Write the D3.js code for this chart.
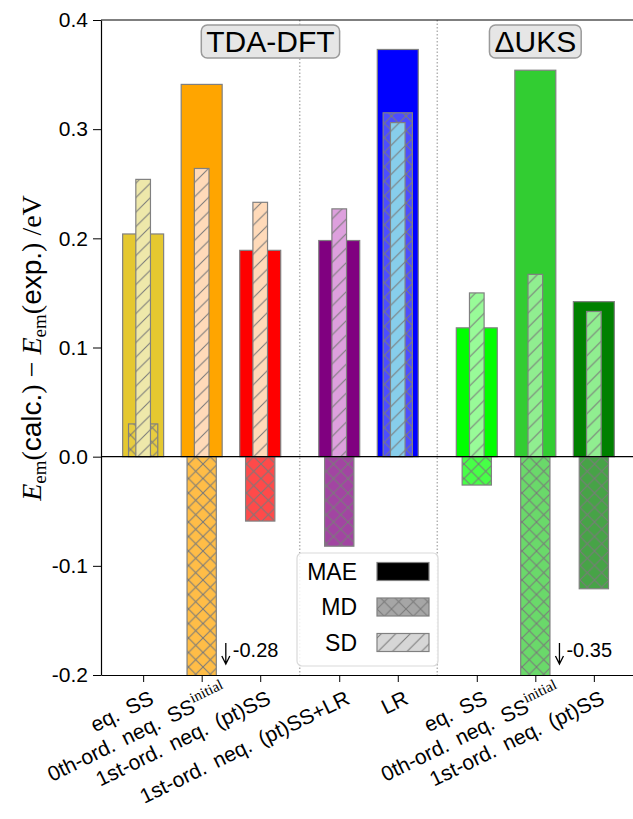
<!DOCTYPE html>
<html><head><meta charset="utf-8">
<script src="https://cdn.jsdelivr.net/npm/d3@7"></script>
<style>body{margin:0;background:#fff;overflow:hidden} svg{display:block}</style>
</head><body>
<svg id="c" width="633" height="819"></svg>
<script>
// ---------- data ----------
const categories = ["eq. SS","0th-ord. neq. SS","1st-ord. neq. (pt)SS","1st-ord. neq. (pt)SS+LR","LR","eq. SS","0th-ord. neq. SS","1st-ord. neq. (pt)SS"];
const superscripts = ["","initial","","","","","initial",""];
const blockIndex = [0,0,0,1,1,2,2,2];
const methods = ["TDA-DFT","\u0394UKS"];
const methodIndex = [0,0,0,0,0,1,1,1];
const maeValues = [0.204,0.341,0.189,0.198,0.373,0.118,0.354,0.142];
const mdValues  = [0.030,-0.28,-0.059,-0.082,0.315,-0.026,-0.35,-0.121];
const sdValues  = [0.254,0.264,0.233,0.227,0.306,0.150,0.167,0.133];
const maeColors = ["#e5c830","#ffa500","#ff0000","#800080","#0000ff","#00ff00","#32cd32","#008000"];
const mdColors  = ["#e8cd40","#ffbd47","#ff4a4a","#a245a2","#4d4dff","#47ff47","#6ad96a","#47a347"];
const sdColors  = ["#eee8aa","#ffdab9","#ffdab9","#dda0dd","#87ceeb","#98fb98","#90ee90","#90ee90"];
const yTicks = [-0.2,-0.1,0.0,0.1,0.2,0.3,0.4];
const legendLabels = ["MAE","MD","SD"];

// ---------- layout ----------
const sans = "'Liberation Sans', Arial, sans-serif";
const serif = "'Liberation Serif', 'DejaVu Serif', serif";
const svg = d3.select("#c");
const L = 101, T = 20, B = 675, R = 636;
const pos = categories.map((c,i)=> i + 0.35*blockIndex[i]);
const x = d3.scaleLinear().domain([-0.72, 8.42]).range([L, R]);
const y = d3.scaleLinear().domain([-0.2, 0.4]).range([B, T]);
const unit = x(1) - x(0);

// patterns
const defs = svg.append("defs");
const hatchStroke = "#7a7a7a";
function makePattern(id, color, kind){
  const s = 14.5;
  const p = defs.append("pattern").attr("id", id).attr("patternUnits","userSpaceOnUse")
    .attr("width", s).attr("height", s);
  p.append("rect").attr("width", s).attr("height", s).attr("fill", color);
  const segs = kind === "x"
    ? [[0,0,s,s],[0,s,s,0],[-1,1,1,-1],[s-1,s+1,s+1,s-1],[-1,s-1,1,s+1],[s-1,-1,s+1,1]]
    : [[0,s,s,0],[-1,1,1,-1],[s-1,s+1,s+1,s-1]];
  segs.forEach(q => p.append("line").attr("x1",q[0]).attr("y1",q[1]).attr("x2",q[2]).attr("y2",q[3])
    .attr("stroke", hatchStroke).attr("stroke-width", 1));
}
mdColors.forEach((c,i)=> makePattern("md"+i, c, "x"));
sdColors.forEach((c,i)=> makePattern("sd"+i, c, "/"));
makePattern("legMD", "#a6a6a6", "x");
makePattern("legSD", "#d6d6d6", "/");

defs.append("clipPath").attr("id","clip").append("rect")
  .attr("x", L).attr("y", T).attr("width", R-L).attr("height", B-T);

// separators (dotted)
const seps = [];
for (let i=1;i<pos.length;i++) if (blockIndex[i]!==blockIndex[i-1]) seps.push((pos[i]+pos[i-1])/2);
svg.append("g").selectAll("line").data(seps).join("line")
  .attr("x1", d=>x(d)).attr("x2", d=>x(d)).attr("y1", T).attr("y2", B)
  .attr("stroke","#b3b3b3").attr("stroke-width",1.5).attr("stroke-dasharray","1.5,2");

const plot = svg.append("g").attr("clip-path","url(#clip)");
function bars(values, widthU, fillFn){
  plot.append("g").selectAll("rect").data(values).join("rect")
    .attr("x", (d,i)=> x(pos[i]) - widthU*unit/2)
    .attr("width", widthU*unit)
    .attr("y", d => y(Math.max(0,d)))
    .attr("height", d => Math.abs(y(d)-y(0)))
    .attr("fill", fillFn)
    .attr("stroke", "#808080").attr("stroke-width", 1.2);
}
bars(maeValues, 0.7, (d,i)=> maeColors[i]);
bars(mdValues, 0.5, (d,i)=> `url(#md${i})`);
bars(sdValues, 0.25, (d,i)=> `url(#sd${i})`);

// zero line
svg.append("line").attr("x1", L).attr("x2", R).attr("y1", y(0)).attr("y2", y(0))
  .attr("stroke","#000").attr("stroke-width",1.3);

// annotations for clipped MD bars
mdValues.forEach((v,i)=>{
  if (v < y.domain()[0]) {
    const ax = x(pos[i]) + 0.25*unit + 9.5;
    svg.append("path").attr("d", `M${ax},643 L${ax},664 M${ax-4},656 L${ax},664 L${ax+4},656`)
      .attr("fill","none").attr("stroke","#000").attr("stroke-width",1.3);
    svg.append("text").attr("x", ax + 7).attr("y", 657).attr("font-family", sans)
      .attr("font-size", 20).text(v.toFixed(2));
  }
});

// axes
const yAxis = svg.append("g").attr("transform",`translate(${L},0)`)
  .call(d3.axisLeft(y).tickValues(yTicks).tickFormat(d=>d.toFixed(1)).tickSize(8).tickSizeOuter(0).tickPadding(5));
yAxis.selectAll("text").attr("font-family", sans).attr("font-size", 21).attr("fill","#000");
yAxis.selectAll("line").attr("stroke","#000");
yAxis.select(".domain").attr("stroke","#000").attr("stroke-width",1.2);

const xAxis = svg.append("g").attr("transform",`translate(0,${B})`)
  .call(d3.axisBottom(x).tickValues(pos).tickFormat("").tickSize(7).tickSizeOuter(0));
xAxis.selectAll("line").attr("stroke","#000");
xAxis.select(".domain").attr("stroke","#000").attr("stroke-width",1.2);

svg.append("line").attr("x1", L).attr("x2", R).attr("y1", T).attr("y2", T)
  .attr("stroke","#000").attr("stroke-width",1.2);

// x tick labels
const ang = 26, rad = ang*Math.PI/180;
categories.forEach((c,i)=>{
  const shift = superscripts[i] ? 16 : 0;
  const ax = x(pos[i]) + 12 + shift*Math.cos(rad);
  const ay = 703 - shift*Math.sin(rad);
  const t = svg.append("text").attr("text-anchor","end")
    .attr("transform", `translate(${ax},${ay}) rotate(${-ang})`)
    .attr("font-family", sans).attr("font-size", 21).attr("word-spacing", 4);
  t.append("tspan").text(c);
  if (superscripts[i]) t.append("tspan").attr("dy", -9).attr("font-family", serif)
    .attr("font-size", 15).attr("word-spacing", 0).text(superscripts[i]);
});

// y label
const yl = svg.append("text").attr("transform","translate(41,348) rotate(-90)")
  .attr("text-anchor","middle").attr("font-size", 28).attr("font-family", serif);
function emE(){
  yl.append("tspan").attr("font-style","italic").text("E");
  yl.append("tspan").attr("font-size",19).attr("dy",5).text("em");
}
emE();
yl.append("tspan").attr("dy",-5).text("(");
yl.append("tspan").attr("font-family",sans).text("calc.");
yl.append("tspan").text(") \u2212 ");
emE();
yl.append("tspan").attr("dy",-5).text("(");
yl.append("tspan").attr("font-family",sans).text("exp.");
yl.append("tspan").text(") /eV");

// method label boxes
methods.forEach((m,k)=>{
  const idx = methodIndex.map((v,i)=>v===k?i:-1).filter(i=>i>=0);
  const cx = (x(pos[idx[0]]) + x(pos[idx[idx.length-1]]))/2;
  const g = svg.append("g");
  const t = g.append("text").attr("x", cx).attr("y", 52).attr("text-anchor","middle")
    .attr("font-family", sans).attr("font-size", 30).text(m);
  const bb = t.node().getBBox();
  g.insert("rect","text").attr("x", bb.x - 5).attr("y", 25).attr("width", bb.width + 10).attr("height", 33)
    .attr("rx", 6).attr("fill","#e6e6e6").attr("stroke","#9a9a9a").attr("stroke-width",1.5);
});

// legend
const lg = svg.append("g");
lg.append("rect").attr("x", 297).attr("y", 553).attr("width", 141).attr("height", 113).attr("rx", 5)
  .attr("fill","#fff").attr("fill-opacity",0.85).attr("stroke","#d9d9d9").attr("stroke-width",1.2);
const legFills = ["#000", "url(#legMD)", "url(#legSD)"];
legendLabels.forEach((lab,i)=>{
  const cy = 571.5 + i*35.5;
  lg.append("text").attr("x", 357).attr("y", cy + 8).attr("text-anchor","end")
    .attr("font-family", sans).attr("font-size", 23).text(lab);
  lg.append("rect").attr("x", 377).attr("y", cy - 9).attr("width", 52).attr("height", 18)
    .attr("fill", legFills[i]).attr("stroke","#808080").attr("stroke-width",1.2);
});
</script>
</body></html>
